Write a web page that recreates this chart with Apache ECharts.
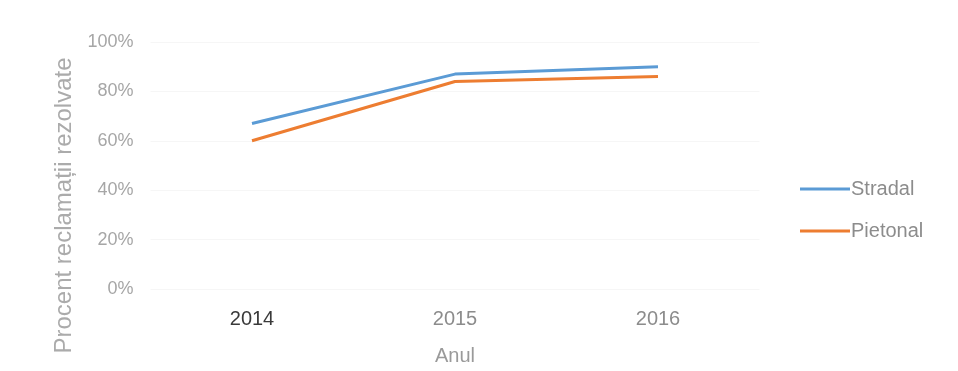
<!DOCTYPE html>
<html>
<head>
<meta charset="utf-8">
<script src="https://cdn.jsdelivr.net/npm/echarts@6/dist/echarts.min.js"></script>
<style>html,body{margin:0;padding:0;background:#fff}#c{width:958px;height:371px}</style>
</head>
<body>
<div id="c"></div>
<script>
var categories = ['2014', '2015', '2016'];
var stradal = [67, 87, 90];
var pietonal = [60, 84, 86];
var yTicks = [0, 20, 40, 60, 80, 100];

var chart = echarts.init(document.getElementById('c'), null, {renderer: 'canvas'});
var font = '"Liberation Sans", Arial, sans-serif';
chart.setOption({
  animation: false,
  backgroundColor: '#ffffff',
  grid: {left: 150.5, right: 198.5, top: 42, bottom: 77, containLabel: false},
  legend: {
    orient: 'vertical', left: 795, top: 174, itemGap: 22,
    itemWidth: 50, itemHeight: 3, icon: 'rect',
    textStyle: {fontFamily: font, fontSize: 20, color: '#8c8c8c', lineHeight: 20, padding: [0,0,0,-4]},
    data: ['Stradal', 'Pietonal']
  },
  xAxis: {
    type: 'category',
    data: categories.map(function (c, i) {
      return {value: c, textStyle: {color: i === 0 ? '#3a3a3a' : '#8c8c8c'}};
    }),
    axisLine: {show: false}, axisTick: {show: false},
    axisLabel: {fontFamily: font, fontSize: 20, margin: 20},
    name: 'Anul', nameLocation: 'middle', nameGap: 57,
    nameTextStyle: {fontFamily: font, fontSize: 20, color: '#9a9a9a'}
  },
  yAxis: {
    type: 'value', min: yTicks[0], max: yTicks[yTicks.length - 1], interval: 20,
    axisLine: {show: false}, axisTick: {show: false},
    axisLabel: {fontFamily: font, fontSize: 18, color: '#a6a6a6', margin: 17, formatter: '{value}%'},
    splitLine: {lineStyle: {color: '#f6f6f6', width: 1}},
    name: 'Procent reclamații rezolvate', nameLocation: 'middle', nameGap: 72,
    nameTextStyle: {fontFamily: font, fontSize: 24, color: '#ababab', padding: [0, 80, 0, 0]}
  },
  series: [
    {name: 'Stradal', type: 'line', data: stradal, showSymbol: false,
     color: '#5b9bd5', lineStyle: {width: 3, color: '#5b9bd5'}},
    {name: 'Pietonal', type: 'line', data: pietonal, showSymbol: false,
     color: '#ed7d31', lineStyle: {width: 3, color: '#ed7d31'}}
  ]
});
</script>
</body>
</html>
